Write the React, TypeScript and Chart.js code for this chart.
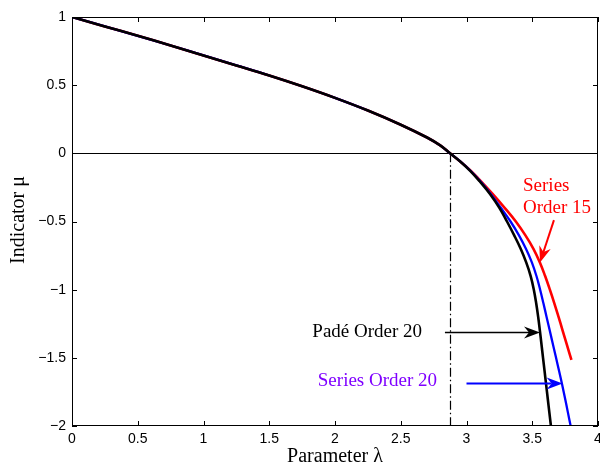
import React, { useEffect, useRef } from "react";
import { Chart, registerables } from "chart.js";

Chart.register(...registerables);

// Shared part of all three curves (they coincide until just past the zero crossing)
const commonLambda = [0, 0.25, 0.5, 0.75, 1.0, 1.25, 1.5, 1.75, 2.0, 2.25, 2.5, 2.7, 2.8, 2.875, 2.95];
const commonMu = [1, 0.931, 0.862, 0.791, 0.718, 0.645, 0.571, 0.492, 0.407, 0.314, 0.21, 0.116, 0.058, 0, -0.058];

// Padé Order 20 (black)
const padeLambda = [3.03, 3.1, 3.18, 3.25, 3.308, 3.362, 3.412, 3.454, 3.488, 3.512, 3.53, 3.545, 3.558, 3.57, 3.582, 3.594, 3.606, 3.618, 3.63, 3.642];
const padeMu = [-0.13, -0.205, -0.3, -0.4, -0.5, -0.6, -0.7, -0.8, -0.9, -1.0, -1.1, -1.2, -1.3, -1.4, -1.5, -1.6, -1.7, -1.8, -1.9, -2.0];

// Series Order 20 (blue)
const series20Lambda = [3.03, 3.1, 3.18, 3.258, 3.335, 3.398, 3.452, 3.497, 3.532, 3.56, 3.585, 3.609, 3.633, 3.657, 3.681, 3.705, 3.728, 3.75, 3.771, 3.792];
const series20Mu = [-0.128, -0.2, -0.292, -0.395, -0.5, -0.6, -0.7, -0.8, -0.9, -1.0, -1.1, -1.2, -1.3, -1.4, -1.5, -1.6, -1.7, -1.8, -1.9, -2.0];

// Series Order 15 (red)
const series15Lambda = [3.03, 3.1, 3.2, 3.29, 3.375, 3.447, 3.509, 3.558, 3.598, 3.634, 3.668, 3.7, 3.731, 3.762, 3.798];
const series15Mu = [-0.125, -0.195, -0.3, -0.4, -0.5, -0.6, -0.7, -0.8, -0.9, -1.0, -1.1, -1.2, -1.3, -1.4, -1.515];

// Critical parameter (dash-dot marker)
const criticalLambda = 2.878;

// Axis ranges / ticks
const xMin = 0, xMax = 4, xStep = 0.5;
const yMin = -2, yMax = 1, yStep = 0.5;

// Annotations (data coordinates)
const annotationArrows = [
  { from: [3.665, -0.49], to: [3.559, -0.8], color: "#ff0000" },
  { from: [2.836, -1.314], to: [3.559, -1.314], color: "#000000" },
  { from: [3.0, -1.689], to: [3.731, -1.689], color: "#0000ff" },
];
const annotationTexts = [
  { text: "Series", at: [3.43, -0.24], align: "left", color: "#ff0000" },
  { text: "Order 15", at: [3.43, -0.4], align: "left", color: "#ff0000" },
  { text: "Padé Order 20", at: [2.662, -1.314], align: "right", color: "#000000" },
  { text: "Series Order 20", at: [2.776, -1.667], align: "right", color: "#7f00ff" },
];

const toPoints = (xs: number[], ys: number[]) => xs.map((x, i) => ({ x, y: ys[i] }));
const fmt = (v: number) => (v < 0 ? "\u2212" : "") + String(Math.abs(Math.round(v * 100) / 100));

const serif = "'Liberation Serif', 'Times New Roman', serif";
const sans = "'Liberation Sans', Arial, sans-serif";

const decorPlugin = {
  id: "decor",
  beforeDatasetsDraw(chart: any) {
    const { ctx, chartArea: a, scales } = chart;
    const xs = scales.x, ys = scales.y;
    ctx.save();
    ctx.strokeStyle = "#000";
    ctx.lineWidth = 1;
    const y0 = Math.round(ys.getPixelForValue(0)) + 0.5;
    ctx.beginPath();
    ctx.moveTo(a.left, y0);
    ctx.lineTo(a.right, y0);
    ctx.stroke();
    const xc = Math.round(xs.getPixelForValue(criticalLambda)) + 0.5;
    ctx.setLineDash([9, 3, 1.5, 3]);
    ctx.lineWidth = 1.2;
    ctx.beginPath();
    ctx.moveTo(xc, ys.getPixelForValue(0));
    ctx.lineTo(xc, ys.getPixelForValue(yMin));
    ctx.stroke();
    ctx.restore();
  },
  afterDatasetsDraw(chart: any) {
    const { ctx, chartArea: a, scales } = chart;
    const xs = scales.x, ys = scales.y;
    ctx.save();
    ctx.strokeStyle = "#000";
    ctx.lineWidth = 1;
    ctx.strokeRect(a.left + 0.5, a.top + 0.5, a.right - a.left - 1, a.bottom - a.top - 1);
    const tl = 5;
    ctx.beginPath();
    for (let v = xMin; v <= xMax + 1e-9; v += xStep) {
      const px = Math.round(xs.getPixelForValue(v)) + 0.5;
      ctx.moveTo(px, a.bottom);
      ctx.lineTo(px, a.bottom - tl);
      ctx.moveTo(px, a.top);
      ctx.lineTo(px, a.top + tl);
    }
    for (let v = yMin; v <= yMax + 1e-9; v += yStep) {
      const py = Math.round(ys.getPixelForValue(v)) + 0.5;
      ctx.moveTo(a.left, py);
      ctx.lineTo(a.left + tl, py);
      ctx.moveTo(a.right, py);
      ctx.lineTo(a.right - tl, py);
    }
    ctx.stroke();

    for (const ar of annotationArrows) {
      const x1 = xs.getPixelForValue(ar.from[0]);
      const y1 = ys.getPixelForValue(ar.from[1]);
      const x2 = xs.getPixelForValue(ar.to[0]);
      const y2 = ys.getPixelForValue(ar.to[1]);
      const ang = Math.atan2(y2 - y1, x2 - x1);
      const len = 16, hw = 6, notch = 11;
      ctx.strokeStyle = ar.color;
      ctx.fillStyle = ar.color;
      ctx.lineWidth = ar.color === "#000000" ? 1.5 : 2;
      ctx.beginPath();
      ctx.moveTo(x1, y1);
      ctx.lineTo(x2 - Math.cos(ang) * notch, y2 - Math.sin(ang) * notch);
      ctx.stroke();
      ctx.beginPath();
      const c = Math.cos(ang), s = Math.sin(ang);
      ctx.moveTo(x2, y2);
      ctx.lineTo(x2 - c * len - s * hw, y2 - s * len + c * hw);
      ctx.lineTo(x2 - c * notch, y2 - s * notch);
      ctx.lineTo(x2 - c * len + s * hw, y2 - s * len - c * hw);
      ctx.closePath();
      ctx.fill();
    }

    ctx.font = `19px ${serif}`;
    ctx.textBaseline = "middle";
    for (const t of annotationTexts) {
      ctx.fillStyle = t.color;
      ctx.textAlign = t.align as CanvasTextAlign;
      ctx.fillText(t.text, xs.getPixelForValue(t.at[0]), ys.getPixelForValue(t.at[1]));
    }

    ctx.font = `20px ${serif}`;
    ctx.fillStyle = "#000";
    ctx.textAlign = "center";
    ctx.textBaseline = "middle";
    ctx.fillText("Parameter \u03bb", (a.left + a.right) / 2, 457);
    ctx.translate(19, 220);
    ctx.rotate(-Math.PI / 2);
    ctx.fillText("Indicator \u03bc", 0, 0);
    ctx.restore();
  },
};

export default function App() {
  const ref = useRef<HTMLCanvasElement | null>(null);
  useEffect(() => {
    if (!ref.current) return;
    const common = toPoints(commonLambda, commonMu);
    const chart = new Chart(ref.current, {
      type: "scatter",
      data: {
        datasets: [
          {
            label: "Padé Order 20",
            data: [...common, ...toPoints(padeLambda, padeMu)],
            borderColor: "#000000",
            borderWidth: 2.6,
          },
          {
            label: "Series Order 20",
            data: [...common, ...toPoints(series20Lambda, series20Mu)],
            borderColor: "#0000ff",
            borderWidth: 2.3,
          },
          {
            label: "Series Order 15",
            data: [...common, ...toPoints(series15Lambda, series15Mu)],
            borderColor: "#ff0000",
            borderWidth: 2.6,
          },
        ].map((d) => ({
          ...d,
          showLine: true,
          pointRadius: 0,
          pointHoverRadius: 0,
          fill: false,
          tension: 0.4,
        })),
      },
      options: {
        responsive: false,
        animation: false,
        events: [],
        layout: { padding: { top: 17, right: 2, left: 0, bottom: 0 } },
        plugins: { legend: { display: false }, tooltip: { enabled: false } },
        scales: {
          x: {
            type: "linear",
            min: xMin,
            max: xMax,
            grid: { display: false, drawTicks: false },
            border: { display: false },
            ticks: {
              stepSize: xStep,
              padding: 5,
              color: "#000",
              font: { family: sans, size: 14 },
              maxRotation: 0,
              callback: (v: any) => fmt(Number(v)),
            },
            afterFit: (s: any) => {
              s.height = 40;
              s.paddingLeft = 0;
              s.paddingRight = 0;
            },
          },
          y: {
            type: "linear",
            min: yMin,
            max: yMax,
            grid: { display: false, drawTicks: false },
            border: { display: false },
            ticks: {
              stepSize: yStep,
              padding: 6,
              color: "#000",
              font: { family: sans, size: 14 },
              callback: (v: any) => fmt(Number(v)),
            },
            afterFit: (s: any) => {
              s.width = 72;
              s.paddingTop = 0;
              s.paddingBottom = 0;
            },
          },
        },
      },
      plugins: [decorPlugin],
    });
    return () => chart.destroy();
  }, []);
  return (
    <div style={{ position: "fixed", left: 0, top: 0, width: 600, height: 466, background: "#fff" }}>
      <canvas ref={ref} width={600} height={466} style={{ display: "block" }} />
    </div>
  );
}
